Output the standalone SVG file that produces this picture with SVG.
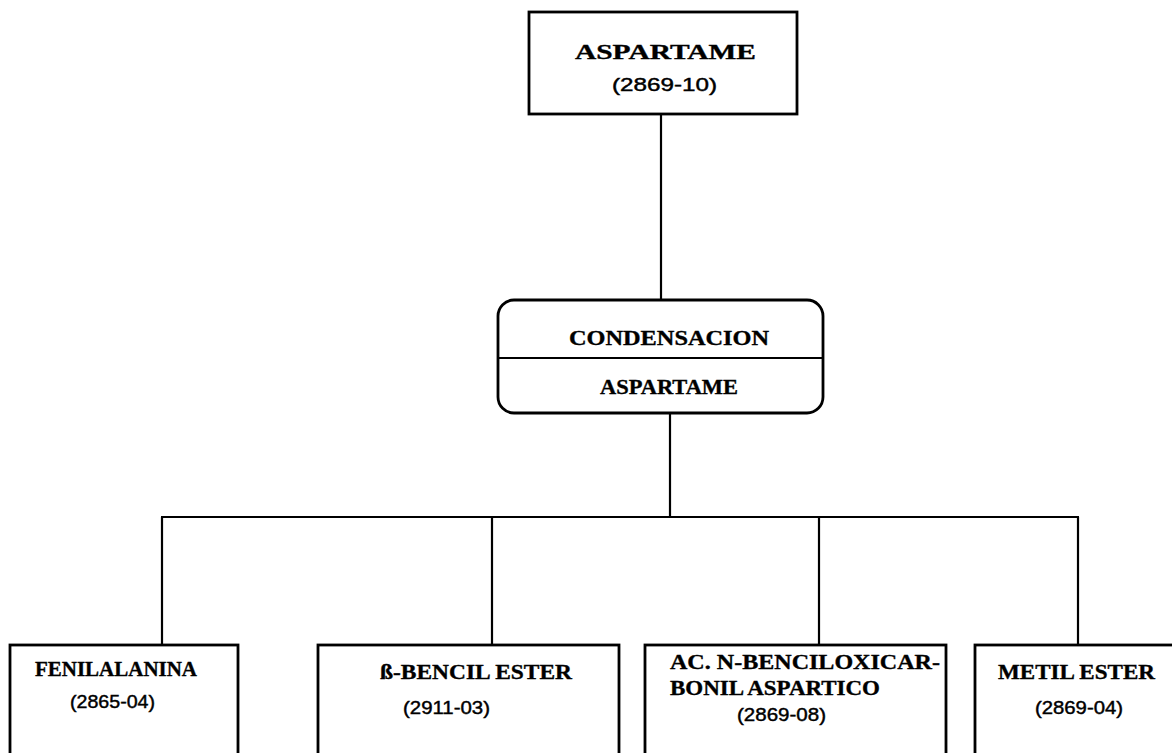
<svg xmlns="http://www.w3.org/2000/svg" width="1172" height="753" viewBox="0 0 1172 753">
  <style>
    .box { fill: #fff; stroke: #000; stroke-width: 2.8; }
    .wire { fill: none; stroke: #000; stroke-width: 2.2; }
    .lbl { font-family: "Liberation Serif", "Times New Roman", serif; font-weight: bold; font-size: 21px; fill: #000; stroke: #000; stroke-width: 0.35; }
    .num { font-family: "Liberation Sans", Arial, sans-serif; font-size: 19px; fill: #000; stroke: #000; stroke-width: 0.45; }
  </style>
  <rect width="1172" height="753" fill="#fff"/>

  <!-- connectors -->
  <g id="connectors">
    <line class="wire" x1="661" y1="114" x2="661" y2="300"/>
    <line class="wire" x1="670" y1="413" x2="670" y2="517"/>
    <line class="wire" x1="161" y1="517" x2="1079" y2="517" stroke-width="2.8"/>
    <line class="wire" x1="162" y1="517" x2="162" y2="645"/>
    <line class="wire" x1="492" y1="517" x2="492" y2="645"/>
    <line class="wire" x1="819" y1="517" x2="819" y2="645"/>
    <line class="wire" x1="1078" y1="517" x2="1078" y2="645"/>
  </g>

  <!-- product -->
  <g id="aspartame">
    <rect class="box" x="529" y="12" width="268" height="102"/>
    <text class="lbl" x="575" y="59" textLength="181" lengthAdjust="spacingAndGlyphs">ASPARTAME</text>
    <text class="num" x="612" y="91" textLength="105" lengthAdjust="spacingAndGlyphs">(2869-10)</text>
  </g>

  <!-- process step -->
  <g id="condensacion">
    <rect class="box" x="498" y="300" width="325" height="113" rx="16" ry="16"/>
    <line class="wire" x1="498" y1="358" x2="823" y2="358" stroke-width="2.8"/>
    <text class="lbl" x="569" y="345" textLength="200" lengthAdjust="spacingAndGlyphs">CONDENSACION</text>
    <text class="lbl" x="600" y="394" textLength="138" lengthAdjust="spacingAndGlyphs">ASPARTAME</text>
  </g>

  <!-- raw materials -->
  <g id="fenilalanina">
    <rect class="box" x="10" y="645" width="228" height="120"/>
    <text class="lbl" x="35" y="676" textLength="162" lengthAdjust="spacingAndGlyphs">FENILALANINA</text>
    <text class="num" x="70" y="708" textLength="85" lengthAdjust="spacingAndGlyphs">(2865-04)</text>
  </g>

  <g id="bencil-ester">
    <rect class="box" x="318" y="645" width="301" height="120"/>
    <text class="lbl" x="380" y="679" textLength="192" lengthAdjust="spacingAndGlyphs">ß-BENCIL ESTER</text>
    <text class="num" x="403" y="714" textLength="87" lengthAdjust="spacingAndGlyphs">(2911-03)</text>
  </g>

  <g id="ac-benciloxicarbonil">
    <rect class="box" x="645" y="645" width="301" height="120"/>
    <text class="lbl" x="670" y="669" textLength="270" lengthAdjust="spacingAndGlyphs">AC. N-BENCILOXICAR-</text>
    <text class="lbl" x="670" y="695" textLength="210" lengthAdjust="spacingAndGlyphs">BONIL ASPARTICO</text>
    <text class="num" x="737" y="721" textLength="89" lengthAdjust="spacingAndGlyphs">(2869-08)</text>
  </g>

  <g id="metil-ester">
    <rect class="box" x="975" y="645" width="210" height="120"/>
    <text class="lbl" x="998" y="679" textLength="157" lengthAdjust="spacingAndGlyphs">METIL ESTER</text>
    <text class="num" x="1035" y="714" textLength="88" lengthAdjust="spacingAndGlyphs">(2869-04)</text>
  </g>
</svg>
